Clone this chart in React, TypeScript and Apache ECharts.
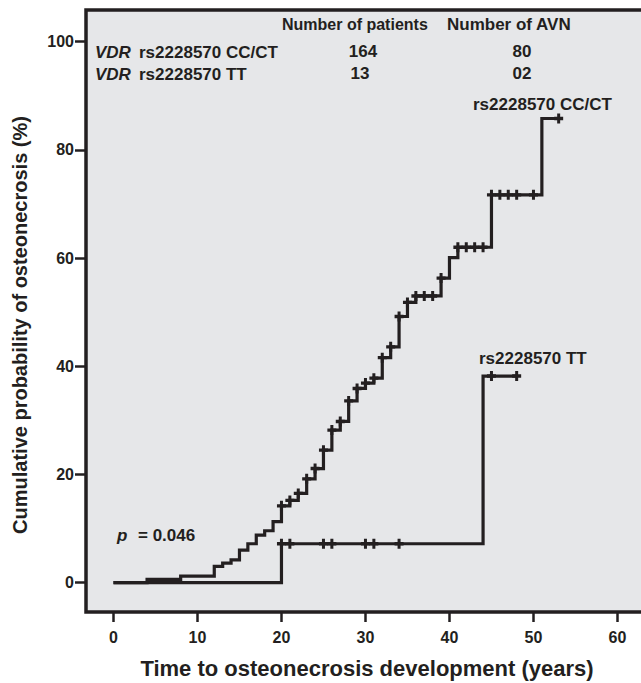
import React, { useEffect, useRef } from "react";
import * as echarts from "echarts";

// ---- data ----
const xTicks = [0, 10, 20, 30, 40, 50, 60];
const yTicks = [0, 20, 40, 60, 80, 100];

// CC/CT: [time, cumulative % after step]
const ccSteps: [number, number][] = [
  [0, 0], [4, 0.6], [8, 1.2], [12, 3.0], [13, 3.6], [14, 4.2], [15, 6.0],
  [16, 7.2], [17, 8.8], [18, 9.6], [19, 11.3], [20, 14.2], [21, 15.2],
  [22, 16.5], [23, 19.2], [24, 21.1], [25, 24.5], [26, 28.2], [27, 29.8],
  [28, 33.6], [29, 35.9], [30, 36.9], [31, 37.8], [32, 41.6], [33, 43.6],
  [34, 49.2], [35, 51.8], [36, 53.0], [39, 56.3], [40, 60.1], [41, 62.0],
  [45, 71.7], [51, 85.8],
];
const ccEnd = 53;
const ccCensor = [20, 21, 22, 23, 24, 25, 26, 27, 28, 29, 30, 31, 32, 33, 34, 35, 36, 37, 38, 39, 41, 42, 43, 44, 45, 46, 47, 48, 50, 53];

// TT
const ttSteps: [number, number][] = [[0, 0], [20, 7.2], [44, 38.2]];
const ttEnd = 48;
const ttCensor = [20, 21, 25, 26, 30, 31, 34, 45, 48];

const INK = "#231f20";
const FONT = "'Liberation Sans', Arial, Helvetica, sans-serif";

const X_MIN = -3.27;
const PX_PER_X = 8.4;
const GRID_W = 600;
const X_MAX = X_MIN + GRID_W / PX_PER_X;
const Y_MIN = -5.42;
const Y_MAX = 105.86;

function stepLine(steps: [number, number][], end: number) {
  const pts: [number, number][] = [];
  steps.forEach(([x, y], i) => {
    if (i > 0) pts.push([x, steps[i - 1][1]]);
    pts.push([x, y]);
  });
  pts.push([end, steps[steps.length - 1][1]]);
  return pts;
}
function yAt(steps: [number, number][], x: number) {
  let y = 0;
  for (const [sx, sy] of steps) if (sx <= x) y = sy;
  return y;
}

const PLUS = "path://M3,0H6V3H9V6H6V9H3V6H0V3H3Z";

function txt(x: number, y: number, text: string, opts: any = {}) {
  return {
    type: "text",
    x,
    y,
    rotation: opts.rotation || 0,
    style: {
      text,
      fill: INK,
      font: `${opts.italic ? "italic " : ""}bold ${opts.size || 17}px ${FONT}`,
      textAlign: opts.align || "left",
      textVerticalAlign: "middle",
    },
  };
}

export default function App() {
  const ref = useRef<HTMLDivElement>(null);
  useEffect(() => {
    document.body.style.margin = "0";
    const chart = echarts.init(ref.current!, null, { renderer: "svg" });
    const lineStyle = { color: INK, width: 3.2, cap: "butt", join: "miter" };
    chart.setOption({
      animation: false,
      grid: {
        left: 86,
        top: 10,
        width: GRID_W,
        height: 602,
        show: true,
        backgroundColor: "#e6e7e9",
        borderColor: INK,
        borderWidth: 3.5,
      },
      xAxis: {
        type: "value",
        min: X_MIN,
        max: X_MAX,
        axisLine: { show: false, onZero: false },
        splitLine: { show: false },
        axisTick: { show: true, customValues: xTicks, length: 10, lineStyle: { color: INK, width: 2.5 } },
        axisLabel: {
          customValues: xTicks,
          margin: 17,
          color: INK,
          fontSize: 16,
          fontWeight: "bold",
          fontFamily: FONT,
        },
      },
      yAxis: {
        type: "value",
        min: Y_MIN,
        max: Y_MAX,
        axisLine: { show: false, onZero: false },
        splitLine: { show: false },
        axisTick: { show: true, customValues: yTicks, length: 11, lineStyle: { color: INK, width: 2.5 } },
        axisLabel: {
          customValues: yTicks,
          margin: 12,
          color: INK,
          fontSize: 16,
          fontWeight: "bold",
          fontFamily: FONT,
        },
      },
      series: [
        {
          type: "line",
          data: stepLine(ttSteps, ttEnd),
          symbol: "none",
          lineStyle,
          z: 2,
        },
        {
          type: "line",
          data: stepLine(ccSteps, ccEnd),
          symbol: "none",
          lineStyle,
          z: 3,
        },
        {
          type: "scatter",
          data: ttCensor.map((x) => [x, yAt(ttSteps, x)]),
          symbol: PLUS,
          symbolSize: [9, 10],
          itemStyle: { color: INK, opacity: 1 },
          z: 4,
        },
        {
          type: "scatter",
          data: ccCensor.map((x) => [x, yAt(ccSteps, x)]),
          symbol: PLUS,
          symbolSize: [9, 10],
          itemStyle: { color: INK, opacity: 1 },
          z: 4,
        },
      ],
      graphic: [
        txt(282, 24, "Number of patients", { size: 16 }),
        txt(447, 24, "Number of AVN"),
        txt(95, 52, "VDR", { italic: true }),
        txt(139, 52, "rs2228570 CC/CT"),
        txt(363, 51, "164", { align: "center" }),
        txt(522, 51, "80", { align: "center" }),
        txt(95, 74, "VDR", { italic: true }),
        txt(139, 74, "rs2228570 TT"),
        txt(360, 73, "13", { align: "center" }),
        txt(522, 73, "02", { align: "center" }),
        txt(473, 104, "rs2228570 CC/CT"),
        txt(479, 358, "rs2228570 TT"),
        txt(117, 535, "p", { italic: true }),
        txt(138, 535, "= 0.046"),
        txt(20, 325, "Cumulative probability of osteonecrosis (%)", { size: 20, align: "center", rotation: Math.PI / 2 }),
        txt(367, 668, "Time to osteonecrosis development (years)", { size: 22, align: "center" }),
      ],
    });
    return () => chart.dispose();
  }, []);
  return (
    <div style={{ width: 641, height: 683, overflow: "hidden", position: "relative" }}>
      <div ref={ref} style={{ width: 700, height: 683 }} />
    </div>
  );
}
